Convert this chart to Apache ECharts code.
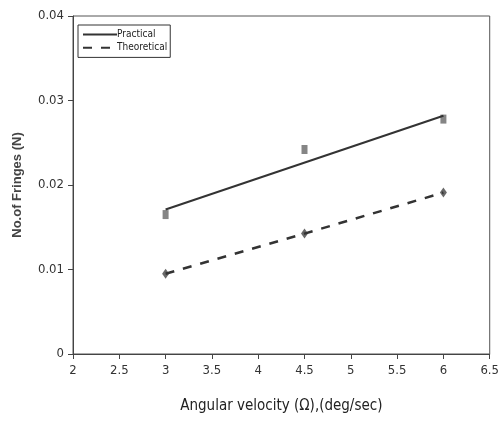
<!DOCTYPE html>
<html><head><meta charset="utf-8">
<script src="https://cdn.jsdelivr.net/npm/echarts@6/dist/echarts.min.js"></script>
<style>html,body{margin:0;padding:0;background:#fff}#c{width:502px;height:439px}</style>
</head><body><div id="c"></div>
<script>
const xValues = [3, 4.5, 6];
const practical = [0.0165, 0.0242, 0.0278];
const theoretical = [0.0095, 0.01425, 0.0191];
const practicalFitX = [3, 6];
const practicalFit = [0.0171, 0.0282];
const xTicks = [2, 2.5, 3, 3.5, 4, 4.5, 5, 5.5, 6, 6.5];
const yTicks = [0, 0.01, 0.02, 0.03, 0.04];

const narrow = '"Liberation Sans Narrow", "DejaVu Sans Condensed", "Liberation Sans", sans-serif';
const chart = echarts.init(document.getElementById('c'), null, {renderer: 'canvas'});
chart.setOption({
  animation: false,
  backgroundColor: '#fff',
  grid: {left: 73, right: 11, top: 16, bottom: 85, show: true, borderColor: '#555', borderWidth: 1},
  legend: {
    orient: 'vertical', left: 78, top: 25,
    data: ['Practical', 'Theoretical'],
    itemWidth: 34, itemHeight: 14, itemGap: 2,
    itemStyle: {opacity: 0},
    borderColor: '#333', borderWidth: 1, padding: [4, 3, 4, 4],
    textStyle: {fontFamily: narrow, fontSize: 10, color: '#222', padding: [0, 0, 0, -5]}
  },
  xAxis: {
    type: 'value', min: 2, max: 6.5, interval: 0.5,
    axisLine: {lineStyle: {color: '#444'}},
    axisTick: {show: true, inside: false, length: 5, lineStyle: {color: '#444'}},
    splitLine: {show: false},
    axisLabel: {fontFamily: narrow, fontSize: 13, color: '#333', margin: 10,
      formatter: v => xTicks.includes(v) ? String(v) : ''},
    name: 'Angular velocity (\u03A9),(deg/sec)', nameLocation: 'middle', nameGap: 45,
    nameTextStyle: {fontFamily: narrow, fontSize: 15, color: '#222'}
  },
  yAxis: {
    type: 'value', min: 0, max: 0.04, interval: 0.01,
    axisLine: {show: true, lineStyle: {color: '#444'}},
    axisTick: {show: true, length: 5, lineStyle: {color: '#444'}},
    splitLine: {show: false},
    axisLabel: {fontFamily: narrow, fontSize: 13, color: '#333', margin: 9,
      formatter: v => yTicks.includes(v) ? String(v) : ''},
    name: 'No.of Fringes (N)', nameLocation: 'middle', nameGap: 49,
    nameTextStyle: {fontFamily: 'Arial, "Liberation Sans", sans-serif', fontSize: 13, fontWeight: 'bold', color: '#444'}
  },
  series: [
    {name: 'Practical', type: 'line', data: practicalFitX.map((x, i) => [x, practicalFit[i]]),
      symbol: 'none', lineStyle: {color: '#333', width: 2, type: 'solid'}, itemStyle: {color: '#333'}},
    {name: 'Theoretical', type: 'line', data: xValues.map((x, i) => [x, theoretical[i]]),
      symbol: 'none', lineStyle: {color: '#333', width: 2.5, type: [9, 9]}, itemStyle: {color: '#333'}},
    {name: 'practicalPts', type: 'scatter', data: xValues.map((x, i) => [x, practical[i]]),
      symbol: 'rect', symbolSize: [6, 9], itemStyle: {color: '#666'}},
    {name: 'theoreticalPts', type: 'scatter', data: xValues.map((x, i) => [x, theoretical[i]]),
      symbol: 'diamond', symbolSize: [7, 10], itemStyle: {color: '#444'}}
  ]
});
</script></body></html>
